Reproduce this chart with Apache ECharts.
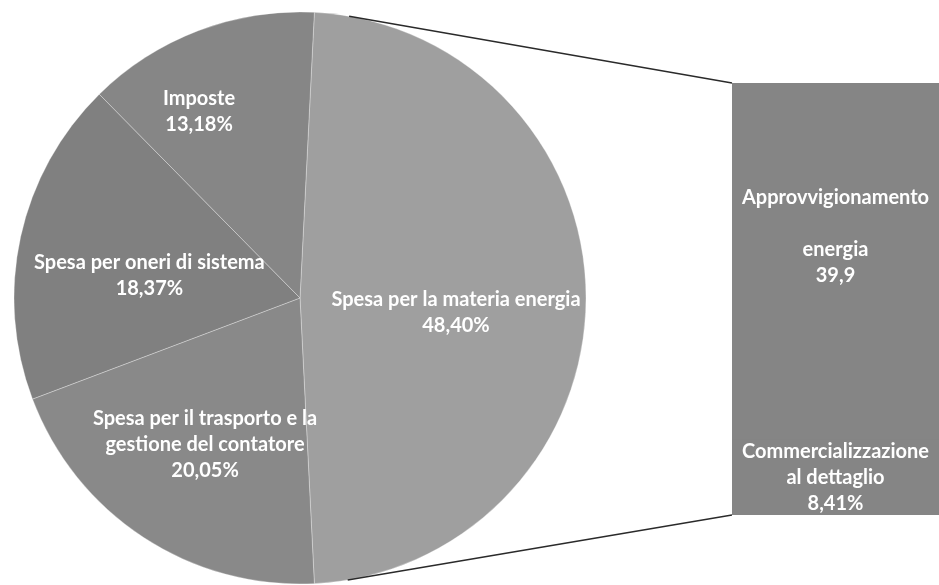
<!DOCTYPE html>
<html>
<head>
<meta charset="utf-8">
<script src="https://cdn.jsdelivr.net/npm/echarts@6/dist/echarts.min.js"></script>
<style>
  html, body { margin: 0; padding: 0; background: #fff; }
  #chart { width: 939px; height: 585px; }
</style>
</head>
<body>
<div id="chart"></div>
<script>
// Breakdown of the bill (pie) and split of the energy component (bar)
const pieNames = [
  'Spesa per la materia energia',
  'Spesa per il trasporto e la\ngestione del contatore',
  'Spesa per oneri di sistema',
  'Imposte'
];
const pieValues = [48.40, 20.05, 18.37, 13.18];

const barNames = ['Approvvigionamento\n\nenergia', 'Commercializzazione\nal dettaglio'];
const barValues = [39.9, 8.41];
const barValueLabels = ['39,9', '8,41%'];

const pieColors = ['#9f9f9f', '#898989', '#808080', '#868686'];
const pieLabelOffsets = [[10, 15], [-15, 24], [-8, 9], [-49, -50]];
const barColor = '#858585';

const PIE_CX = 300, PIE_CY = 298, PIE_R = 286;
const BAR_LEFT = 732, BAR_TOP = 83, BAR_W = 212, BAR_H = 432;

const font = 'Lato, "Open Sans", "DejaVu Sans", sans-serif';
const FONT_SIZE = 20;
const pct = v => v.toFixed(2).replace('.', ',') + '%';

const chart = echarts.init(document.getElementById('chart'), null, { renderer: 'canvas' });

const barTotal = barValues.reduce((a, b) => a + b, 0);

const textStyle = {
  color: '#ffffff',
  fontFamily: font,
  fontWeight: 'bold',
  fontSize: FONT_SIZE,
  lineHeight: 26,
  align: 'center'
};

chart.setOption({
  animation: false,
  backgroundColor: '#ffffff',
  grid: { left: BAR_LEFT, top: BAR_TOP, width: BAR_W, height: BAR_H },
  xAxis: { type: 'category', data: ['energia'], show: false },
  yAxis: { type: 'value', min: 0, max: barTotal, inverse: true, show: false },
  series: [
    {
      type: 'pie',
      center: [PIE_CX, PIE_CY],
      radius: [0, PIE_R],
      startAngle: pieValues[0] * 3.6 / 2,
      clockwise: true,
      avoidLabelOverlap: false,
      itemStyle: { borderColor: 'rgba(255,255,255,0.3)', borderWidth: 1 },
      label: Object.assign({
        show: true,
        position: 'inside',
        formatter: p => p.name + '\n' + pct(p.value)
      }, textStyle),
      labelLine: { show: false },
      emphasis: { disabled: true },
      data: pieNames.map((n, i) => ({
        name: n,
        value: pieValues[i],
        itemStyle: { color: pieColors[i] },
        label: { offset: pieLabelOffsets[i] }
      }))
    },
    {
      type: 'bar',
      stack: 'energia',
      barWidth: '100%',
      showBackground: true,
      backgroundStyle: { color: barColor },
      data: [barValues[0]],
      itemStyle: { color: barColor },
      label: Object.assign({
        show: true, position: 'inside', offset: [0, -25],
        formatter: () => barNames[0] + '\n' + barValueLabels[0]
      }, textStyle),
      emphasis: { disabled: true }
    },
    {
      type: 'bar',
      stack: 'energia',
      barWidth: '100%',
      data: [barValues[1]],
      itemStyle: { color: barColor },
      label: Object.assign({
        show: true, position: 'inside',
        formatter: () => barNames[1] + '\n' + barValueLabels[1]
      }, textStyle),
      emphasis: { disabled: true }
    }
  ]
});

// Connector lines: tangent from the bar's left corners to the pie circle
function tangentPoint(px, py, upper) {
  const dx = px - PIE_CX, dy = PIE_CY - py;
  const d = Math.hypot(dx, dy);
  const base = Math.atan2(dy, dx);
  const off = Math.acos(PIE_R / d);
  const ang = upper ? base + off : base - off;
  return [PIE_CX + PIE_R * Math.cos(ang), PIE_CY - PIE_R * Math.sin(ang)];
}
const topCorner = chart.convertToPixel({ gridIndex: 0 }, [0, 0]);
const botCorner = chart.convertToPixel({ gridIndex: 0 }, [0, barTotal]);
const tl = [BAR_LEFT, topCorner[1]];
const bl = [BAR_LEFT, botCorner[1]];
const t1 = tangentPoint(tl[0], tl[1], true);
const t2 = tangentPoint(bl[0], bl[1], false);

chart.setOption({
  graphic: [
    { type: 'line', shape: { x1: t1[0], y1: t1[1], x2: tl[0], y2: tl[1] },
      style: { stroke: '#2a2a2a', lineWidth: 1.3 }, z: 10 },
    { type: 'line', shape: { x1: t2[0], y1: t2[1], x2: bl[0], y2: bl[1] },
      style: { stroke: '#2a2a2a', lineWidth: 1.3 }, z: 10 }
  ]
});
</script>
</body>
</html>
